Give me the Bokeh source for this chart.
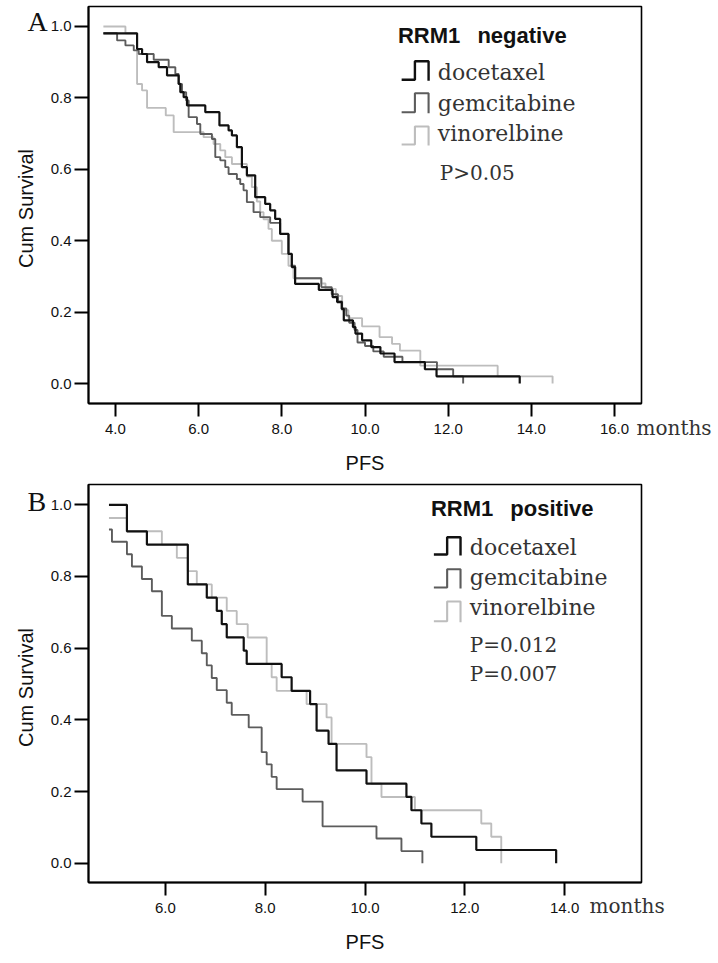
from bokeh.plotting import figure
from bokeh.models import FixedTicker, NumeralTickFormatter, Label, PolyAnnotation, Range1d
from bokeh.layouts import column
from bokeh.embed import file_html
from bokeh.resources import INLINE

# ---------------- data ----------------
# Panel A : RRM1 negative
A_doc_t = [3.71, 4.52, 4.64, 4.76, 5.04, 5.24, 5.52, 5.56, 5.64, 5.72, 6.16, 6.50, 6.72, 6.80, 6.92,
           7.04, 7.16, 7.36, 7.60, 7.72, 7.84, 7.96, 8.16, 8.24, 8.32, 8.89, 9.22, 9.33, 9.44, 9.49,
           9.71, 9.77, 9.93, 10.15, 10.37, 10.71, 11.44, 11.72, 13.72]
A_doc_s = [0.981, 0.937, 0.923, 0.900, 0.886, 0.863, 0.839, 0.816, 0.802, 0.779, 0.760, 0.723, 0.709,
           0.695, 0.662, 0.606, 0.583, 0.522, 0.503, 0.485, 0.461, 0.419, 0.363, 0.326, 0.279, 0.262,
           0.242, 0.228, 0.209, 0.177, 0.158, 0.140, 0.121, 0.102, 0.084, 0.060, 0.040, 0.020, 0.0]

A_gem_t = [3.71, 4.04, 4.24, 4.44, 4.56, 4.92, 5.28, 5.44, 5.52, 5.60, 5.70, 5.76, 5.96, 6.04, 6.32,
           6.40, 6.52, 6.64, 6.72, 6.92, 7.00, 7.08, 7.16, 7.32, 7.48, 7.72, 7.96, 8.16, 8.24, 8.32,
           8.95, 9.20, 9.35, 9.45, 9.55, 9.62, 9.75, 9.82, 10.0, 10.2, 10.45, 10.9, 11.73, 12.12, 12.36]
A_gem_s = [0.981, 0.961, 0.947, 0.933, 0.923, 0.907, 0.886, 0.867, 0.839, 0.816, 0.793, 0.746, 0.727,
           0.699, 0.685, 0.634, 0.625, 0.606, 0.587, 0.573, 0.559, 0.541, 0.508, 0.480, 0.466, 0.450,
           0.419, 0.363, 0.330, 0.295, 0.270, 0.250, 0.230, 0.210, 0.190, 0.170, 0.150, 0.115, 0.105,
           0.090, 0.075, 0.060, 0.040, 0.020, 0.0]

A_vin_t = [3.71, 4.24, 4.52, 4.64, 4.76, 5.21, 5.40, 6.12, 6.36, 6.52, 6.64, 6.80, 7.16, 7.28, 7.40,
           7.48, 7.56, 7.68, 7.76, 8.00, 8.16, 8.28, 8.95, 9.05, 9.30, 9.45, 9.60, 9.93, 10.35, 10.65,
           10.84, 11.33, 13.19, 14.51]
A_vin_s = [1.0, 0.981, 0.839, 0.821, 0.772, 0.751, 0.704, 0.690, 0.671, 0.653, 0.634, 0.615, 0.580,
           0.550, 0.510, 0.480, 0.460, 0.433, 0.400, 0.363, 0.330, 0.295, 0.280, 0.265, 0.245, 0.205,
           0.183, 0.160, 0.130, 0.111, 0.092, 0.050, 0.020, 0.0]

# Panel B : RRM1 positive
B_doc_t = [4.87, 5.23, 5.63, 6.45, 6.83, 7.03, 7.13, 7.23, 7.57, 7.63, 8.33, 8.53, 8.90, 9.03, 9.27,
           9.43, 10.03, 10.83, 10.93, 11.13, 11.33, 12.23, 13.83]
B_doc_s = [1.0, 0.926, 0.889, 0.778, 0.741, 0.704, 0.667, 0.630, 0.593, 0.556, 0.519, 0.481, 0.444,
           0.370, 0.333, 0.259, 0.222, 0.185, 0.148, 0.111, 0.074, 0.037, 0.0]

B_gem_t = [4.87, 4.93, 5.23, 5.33, 5.53, 5.73, 5.93, 6.13, 6.53, 6.73, 6.83, 6.93, 7.03, 7.23, 7.33,
           7.67, 7.93, 8.03, 8.13, 8.23, 8.75, 9.15, 10.23, 10.73, 11.15]
B_gem_s = [0.931, 0.897, 0.862, 0.828, 0.793, 0.759, 0.690, 0.655, 0.621, 0.586, 0.552, 0.517, 0.483,
           0.448, 0.414, 0.379, 0.310, 0.276, 0.241, 0.207, 0.172, 0.103, 0.069, 0.034, 0.0]

B_vin_t = [4.87, 5.23, 5.93, 6.23, 6.45, 6.63, 6.93, 7.23, 7.43, 7.65, 8.03, 8.13, 8.23, 8.83, 9.23,
           9.33, 10.03, 10.13, 10.33, 11.0, 12.33, 12.53, 12.73]
B_vin_s = [0.963, 0.926, 0.889, 0.852, 0.815, 0.778, 0.741, 0.704, 0.667, 0.630, 0.556, 0.519, 0.481,
           0.444, 0.407, 0.333, 0.296, 0.222, 0.185, 0.148, 0.111, 0.074, 0.0]

groups = ["docetaxel", "gemcitabine", "vinorelbine"]
A_ticks_x = [4, 6, 8, 10, 12, 14, 16]
B_ticks_x = [6, 8, 10, 12, 14]
ticks_y = [0.0, 0.2, 0.4, 0.6, 0.8, 1.0]
A_title = "RRM1 \u2002negative"
B_title = "RRM1 \u2002positive"
A_pvalues = ["P>0.05"]
B_pvalues = ["P=0.012", "P=0.007"]

# ---------------- style ----------------
COLORS = {"docetaxel": "#111111", "gemcitabine": "#5c5c5c", "vinorelbine": "#bdbdbd"}
WIDTHS = {"docetaxel": 2.2, "gemcitabine": 1.9, "vinorelbine": 1.9}
SANS = "Liberation Sans"
SERIF = "DejaVu Serif"
W = 716


def make_panel(letter, title, curves, xticks, xr, yr, height, border_top, border_bottom,
               title_xy, icon_x, icon_rows, text_x, text_rows, pvals, p_x, p_rows, months_xy,
               letter_xy, ylabel_y):
    bl, br = 88, W - 642
    p = figure(width=W, height=height, output_backend="svg", toolbar_location=None,
               x_range=Range1d(*xr), y_range=Range1d(*yr),
               min_border_left=bl, min_border_right=br, min_border_top=border_top,
               min_border_bottom=border_bottom)
    fl, fr = bl, W - br
    ft, fb = border_top, height - border_bottom

    def conv(fx, fy):
        x = xr[0] + (fx - fl) / (fr - fl) * (xr[1] - xr[0])
        y = yr[1] - (fy - ft) / (fb - ft) * (yr[1] - yr[0])
        return x, y

    p.grid.visible = False
    p.outline_line_color = "black"
    p.outline_line_width = 1.6
    p.background_fill_color = "white"
    p.border_fill_color = "white"

    for ax in (p.xaxis, p.yaxis):
        ax.axis_line_width = 2
        ax.axis_line_color = "black"
        ax.major_tick_line_width = 2
        ax.major_tick_in = 0
        ax.minor_tick_line_color = None
        ax.major_label_text_font = SANS
        ax.major_label_text_font_size = "15px"
        ax.major_label_text_color = "#111111"
        ax.axis_label_text_font = SANS
        ax.axis_label_text_font_size = "20px"
        ax.axis_label_text_font_style = "normal"
        ax.axis_label_text_color = "#111111"
        ax.formatter = NumeralTickFormatter(format="0.0")
    p.xaxis.ticker = FixedTicker(ticks=xticks)
    p.yaxis.ticker = FixedTicker(ticks=ticks_y)
    p.xaxis.major_tick_out = 13
    p.yaxis.major_tick_out = 14
    p.xaxis.major_label_standoff = 7
    p.yaxis.major_label_standoff = 3
    p.xaxis.axis_label = "PFS"
    p.xaxis.axis_label_standoff = 15

    for g in ["vinorelbine", "gemcitabine", "docetaxel"]:
        t, s = curves[g]
        assert len(t) == len(s)
        p.step(x=t, y=s, mode="after", line_color=COLORS[g], line_width=WIDTHS[g])

    def label(fx, fy, text, font, size, color="#111111", style="normal", baseline="middle",
              align="left", angle=0, side=None):
        x, y = conv(fx, fy)
        lab = Label(x=x, y=y, text=text, text_font=font, text_font_size=size,
                    text_color=color, text_font_style=style, text_align=align,
                    text_baseline=baseline, angle=angle, angle_units="deg")
        if side is None:
            p.add_layout(lab)
        else:
            p.add_layout(lab, side)

    # texts that lie outside the plot frame go into side panels (not clipped)
    label(25, ylabel_y, "Cum Survival", SANS, "20px", "#111111", align="center", angle=90,
          side="left")
    label(letter_xy[0], letter_xy[1], letter, "Liberation Serif", "28px", "#111111",
          baseline="middle", side="left")
    label(months_xy[0], months_xy[1], "months", SERIF, "20px", "#333333", side="right")

    label(title_xy[0], title_xy[1], title, SANS, "22px", "#111111", style="bold")
    x0, xm, x1 = icon_x
    for g, (top, bot), ty in zip(groups, icon_rows, text_rows):
        pts = [(x0, bot), (xm, bot), (xm, top), (x1, top), (x1, bot + 1)]
        path = pts + pts[-2::-1]
        xs, ys = zip(*[conv(a, b) for a, b in path])
        p.add_layout(PolyAnnotation(xs=list(xs), ys=list(ys), line_color=COLORS[g],
                                    line_alpha=1.0, line_width=WIDTHS[g] + 0.2,
                                    fill_alpha=0))
        label(text_x, ty, g, SERIF, "22px", "#333333")
    for pv, py in zip(pvals, p_rows):
        label(p_x, py, pv, SERIF, "20px", "#333333")
    return p


pA = make_panel("A", A_title,
                {"docetaxel": (A_doc_t, A_doc_s), "gemcitabine": (A_gem_t, A_gem_s),
                 "vinorelbine": (A_vin_t, A_vin_s)},
                A_ticks_x, (3.352, 16.648), (-0.056, 1.056), 480, 6, 77,
                title_xy=(398, 35), icon_x=(401.7, 415, 428.7),
                icon_rows=[(60.7, 79.3), (92.7, 111.7), (126, 144)],
                text_x=438, text_rows=[72, 103, 133], pvals=A_pvalues, p_x=440, p_rows=[172],
                months_xy=(637, 427), letter_xy=(27, 21), ylabel_y=208)

pB = make_panel("B", B_title,
                {"docetaxel": (B_doc_t, B_doc_s), "gemcitabine": (B_gem_t, B_gem_s),
                 "vinorelbine": (B_vin_t, B_vin_s)},
                B_ticks_x, (4.46, 15.54), (-0.0536, 1.0566), 480, 4, 78,
                title_xy=(431, 27.7), icon_x=(434, 447.3, 460.7),
                icon_rows=[(56.7, 74), (88.7, 107), (121, 140.7)],
                text_x=470, text_rows=[67.3, 97.3, 127.3], pvals=B_pvalues, p_x=470,
                p_rows=[164, 193.3], months_xy=(590, 425), letter_xy=(27, 21), ylabel_y=207)

layout = column(pA, pB)
open("out.html", "w").write(file_html(layout, INLINE))
